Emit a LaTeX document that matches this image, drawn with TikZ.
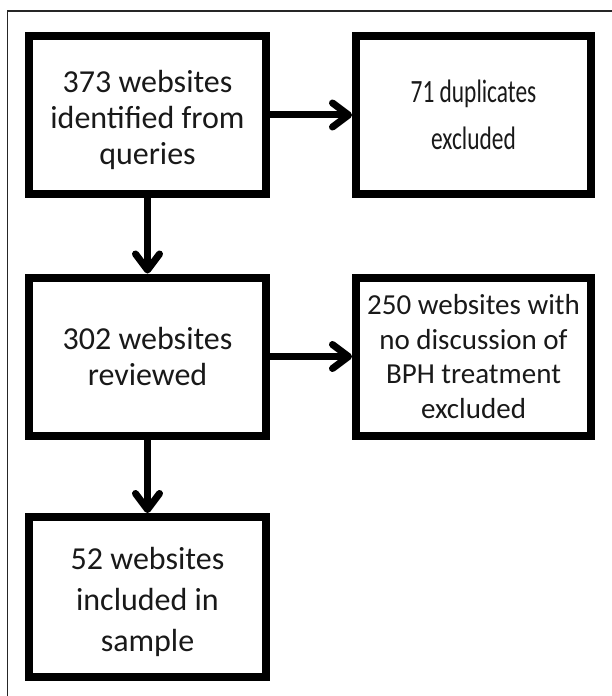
\documentclass[tikz,border=0pt]{standalone}
\usepackage{fontspec}
\setmainfont{Carlito}
\newfontfamily\narrowfont[FakeStretch=0.72]{Carlito}
\usetikzlibrary{arrows.meta}

\newcommand{\boxfont}{\fontsize{32bp}{36bp}\selectfont}
\newcommand{\sampfont}{\fontsize{32bp}{41bp}\selectfont}
\newcommand{\dupfont}{\narrowfont\fontsize{32.5bp}{47bp}\selectfont}
\newcommand{\exclfont}{\fontsize{29bp}{34.5bp}\selectfont}
% taller first line, pushes a block of text a little lower in its box
\newcommand{\topgap}{\rule{0pt}{32bp}}

\tikzset{
  stepbox/.style={draw=black, line width=8bp, align=center, inner sep=0pt,
    minimum width=237bp, minimum height=158bp, font=\boxfont, text=black!90},
  flow/.style={line width=7bp, -{Straight Barb[length=16bp, width=24bp, round]}},
}

\begin{document}
\begin{tikzpicture}[x=1bp, y=-1bp]

  \useasboundingbox (0,0) rectangle (612,696);
  \fill[white] (0,0) rectangle (612,696);

  % --- Outer frame (runs off the page at right and bottom) ---
  \draw[line width=1.2bp, black!85] (7.5,700) -- (7.5,11) -- (620,11);

  % --- Main column ---
  \node[stepbox] (found) at (147.5,115) {\topgap373 websites\\identified from\\queries};
  \node[stepbox] (reviewed) at (147.5,356.5) {302 websites\\reviewed};
  \node[stepbox, minimum height=160bp, font=\sampfont] (sample) at (147.5,597)
    {\topgap52 websites\\included in\\sample};

  % --- Exclusions ---
  \node[stepbox, minimum width=235bp, font=\dupfont]
    (dupes) at (473.5,115) {71 duplicates\\excluded};
  \node[stepbox, minimum width=235bp, font=\exclfont]
    (offtopic) at (473.5,356.5) {250 websites with\\no discussion of\\BPH treatment\\excluded};

  % --- Arrows ---
  \draw[flow] (found) -- (dupes);
  \draw[flow] (found) -- (reviewed);
  \draw[flow] (reviewed) -- (offtopic);
  \draw[flow] (reviewed) -- (sample);

\end{tikzpicture}
\end{document}
